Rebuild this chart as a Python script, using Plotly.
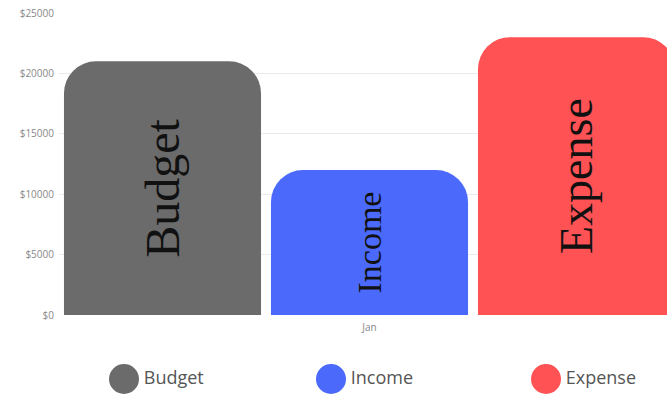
import plotly.graph_objects as go

categories = ["Jan"]
series_names = ["Budget", "Income", "Expense"]
series_values = [[21000], [12000], [23000]]
colors = ["#6b6b6b", "#4b69fb", "#fe5254"]
label_sizes = [48, 34, 46]
y_ticks = [0, 5000, 10000, 15000, 20000, 25000]
y_tick_labels = ["$" + str(v) for v in y_ticks]

W, H = 667, 395
L_MARGIN, T_MARGIN = 59, 13
PLOT_BOTTOM_PX = 315

fig = go.Figure()
for name, vals, col, fs in zip(series_names, series_values, colors, label_sizes):
    fig.add_trace(go.Bar(
        x=categories, y=vals, name=name,
        marker=dict(color=col, cornerradius=32, line=dict(width=0)),
        text=[name], textposition="inside", textangle=-90,
        insidetextanchor="middle",
        textfont=dict(family="Liberation Serif", size=fs, color="#111111"),
        showlegend=False, hoverinfo="skip",
    ))

# custom legend with big circle markers
legend_x = [124, 331, 546]
fig.add_trace(go.Scatter(
    x=legend_x, y=[16] * 3, xaxis="x2", yaxis="y2",
    mode="markers+text", text=series_names, textposition="middle right",
    marker=dict(size=30, color=colors),
    textfont=dict(family="Open Sans", size=18, color="#555555"),
    showlegend=False, hoverinfo="skip", cliponaxis=False,
))

plot_h = H - T_MARGIN
main_bottom = (H - PLOT_BOTTOM_PX) / plot_h
plot_w = W - L_MARGIN
slot_total = 621  # px width of full category
fig.update_layout(
    width=W, height=H,
    margin=dict(l=L_MARGIN, r=0, t=T_MARGIN, b=0, autoexpand=False),
    paper_bgcolor="white", plot_bgcolor="white",
    barmode="group", bargap=0, bargroupgap=0.048,
    xaxis=dict(domain=[0, 1], range=[-0.5, -0.5 + plot_w / slot_total],
               showgrid=False, zeroline=False, showline=False, ticks="",
               automargin=False, ticklabelstandoff=5,
               tickfont=dict(family="Open Sans", size=10, color="#888888"),
               anchor="y"),
    yaxis=dict(domain=[main_bottom, 1], range=[0, 25000],
               tickmode="array", tickvals=y_ticks, ticktext=y_tick_labels,
               showgrid=True, automargin=False, ticklabelstandoff=4,
               gridcolor="#ebebeb", gridwidth=1, zeroline=False,
               showline=False, ticks="",
               tickfont=dict(family="Open Sans", size=10, color="#888888")),
    xaxis2=dict(domain=[0, 1], range=[L_MARGIN, W], visible=False,
                anchor="y2", fixedrange=True, automargin=False),
    yaxis2=dict(domain=[0, main_bottom], range=[0, H - PLOT_BOTTOM_PX],
                visible=False, anchor="x2", fixedrange=True, automargin=False),
    showlegend=False,
)

fig.write_html("out.html", config={"displayModeBar": False})
